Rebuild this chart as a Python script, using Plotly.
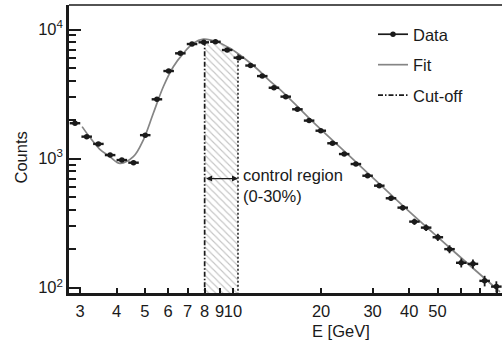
import numpy as np
import plotly.graph_objects as go

# Measured spectrum: bin centres (GeV) and counts per bin
energy = [2.884, 3.162, 3.467, 3.802, 4.169, 4.571, 5.012, 5.495, 6.026, 6.607,
          7.244, 7.943, 8.710, 9.550, 10.47, 11.48, 12.59, 13.80, 15.14, 16.60,
          18.20, 19.95, 21.88, 23.99, 26.30, 28.84, 31.62, 34.67, 38.02, 41.69,
          45.71, 50.12, 54.95, 60.26, 66.07, 72.44, 79.43]
counts = [1880, 1480, 1300, 1065, 975, 930, 1520, 2880, 4770, 6540,
          7720, 7960, 8040, 6940, 6050, 5260, 4360, 3540, 3020, 2410,
          1970, 1645, 1315, 1085, 908, 737, 617, 493, 417, 325,
          292, 246, 199, 156, 153, 113, 102]
bin_half_width_dex = 0.018

# Fitted curve, sampled
fit_e = [3.05, 3.245, 3.499, 3.799, 4.11, 4.564, 4.936, 5.341, 5.778, 6.252,
         6.764, 7.317, 7.914, 8.796, 9.767, 10.84, 12.05, 13.38, 14.86, 18.18,
         26.33, 38.11, 55.15, 81.75]
fit_counts = [1770, 1457, 1187, 1034, 919, 1034, 1393, 2244, 3605, 5152,
              6541, 7819, 8412, 8044, 7151, 6067, 4989, 3990, 3251, 2063,
              941, 430, 203, 93]

# Cut-off energy and upper edge of the control region (cut-off + 30%)
cut_e = 8.0
ctrl_e = 10.4
arrow_counts = 700

x_tickvals = [3, 4, 5, 6, 7, 8, 9, 10, 20, 30, 40, 50]
x_ticktext = ["3", "4", "5", "6", "7", "8", "9", "10", "20", "30", "40", "50"]
x_minorvals = [60, 70, 80]
y_tickvals = [100, 1000, 10000]
y_ticktext = ["10<sup>2</sup>", "10<sup>3</sup>", "10<sup>4</sup>"]
y_minorvals = [m * 10 ** k for k in (1, 2, 3) for m in range(2, 10)]

x_range = [0.4395, 1.9193]
y_range = [1.959, 4.19]

FONT = "Liberation Sans, Arial, sans-serif"
FS = 16.5
INK = "#1a1a1a"

e = np.array(energy)
c = np.array(counts)
err_plus = e * (10 ** bin_half_width_dex - 1)
err_minus = e * (1 - 10 ** -bin_half_width_dex)

# Fit value at the edges of the control region (log-log interpolation)
lfe, lfc = np.log10(fit_e), np.log10(fit_counts)
def fit_at(x):
    return 10 ** np.interp(np.log10(x), lfe, lfc)

inside = [(fe, fc) for fe, fc in zip(fit_e, fit_counts) if cut_e < fe < ctrl_e]
ybot = 10 ** (y_range[0] - 0.2)
hx = [cut_e, cut_e] + [p[0] for p in inside] + [ctrl_e, ctrl_e]
hy = [ybot, fit_at(cut_e)] + [p[1] for p in inside] + [fit_at(ctrl_e), ybot]

fig = go.Figure()

# hatched control region
fig.add_trace(go.Scatter(
    x=hx, y=hy, mode="lines", fill="toself", line=dict(width=0),
    fillcolor="rgba(0,0,0,0)",
    fillpattern=dict(shape="\\", fgcolor="#8a8a8a", bgcolor="white", size=5, solidity=0.22),
    showlegend=False, hoverinfo="skip"))

# fit
fig.add_trace(go.Scatter(
    x=fit_e, y=fit_counts, mode="lines", name="Fit", legendrank=2, legendgroup="fit",
    line=dict(color="#858585", width=1.7, shape="spline")))

# cut-off line and control-region edge
fig.add_trace(go.Scatter(
    x=[cut_e, cut_e], y=[ybot, fit_at(cut_e)], mode="lines", name="Cut-off",
    legendrank=3, legendgroup="cut",
    line=dict(color=INK, width=1.7, dash="5px,2px,1.5px,2px")))
fig.add_trace(go.Scatter(
    x=[ctrl_e, ctrl_e], y=[ybot, fit_at(ctrl_e)], mode="lines",
    line=dict(color=INK, width=1.5, dash="2px,2px"), showlegend=False))

# data with bin-width and Poisson errors
fig.add_trace(go.Scatter(
    x=energy, y=counts, mode="markers", showlegend=False,
    marker=dict(color=INK, size=5.5),
    error_x=dict(type="data", symmetric=False, array=err_plus, arrayminus=err_minus,
                 color=INK, thickness=2.4, width=0),
    error_y=dict(type="data", array=np.sqrt(c), color=INK, thickness=1.8, width=0)))
fig.add_trace(go.Scatter(
    x=[None], y=[None], mode="lines+markers", name="Data", legendrank=1, legendgroup="data",
    line=dict(color=INK, width=1.7), marker=dict(color=INK, size=5.5)))

# double arrow spanning the control region
fig.add_annotation(
    x=np.log10(ctrl_e), y=np.log10(arrow_counts), ax=np.log10(cut_e), ay=np.log10(arrow_counts),
    xref="x", yref="y", axref="x", ayref="y", text="", showarrow=True,
    arrowhead=2, arrowside="end+start", arrowsize=1, arrowwidth=1.2, arrowcolor=INK,
    standoff=0, startstandoff=0)
fig.add_annotation(
    x=np.log10(ctrl_e), y=np.log10(arrow_counts), xref="x", yref="y",
    text="control region<br>(0-30%)", showarrow=False, align="left",
    xanchor="left", yanchor="middle", xshift=3, yshift=-7,
    font=dict(family=FONT, size=FS, color=INK))

# axis titles
fig.add_annotation(x=(341 - 69) / 433, y=-(331 - 293) / 288, xref="paper", yref="paper",
                   text="E [GeV]", showarrow=False, xanchor="center", yanchor="middle",
                   font=dict(family=FONT, size=FS, color=INK))
fig.add_annotation(x=(20.5 - 69) / 433, y=(293 - 158) / 288, xref="paper", yref="paper",
                   text="Counts", showarrow=False, textangle=-90, xanchor="center",
                   yanchor="middle", font=dict(family=FONT, size=FS, color=INK))

# top frame line
fig.add_shape(type="line", xref="paper", yref="paper", x0=0, x1=1, y0=1, y1=1,
              line=dict(color=INK, width=1.7))

fig.update_xaxes(
    type="log", range=x_range, tickvals=x_tickvals, ticktext=x_ticktext, tickangle=0,
    ticks="inside", ticklen=5, tickwidth=1.7, tickcolor=INK, ticklabelstandoff=1,
    minor=dict(tickvals=x_minorvals, ticks="inside", ticklen=5, tickwidth=1.7,
               tickcolor=INK, showgrid=False),
    showline=True, linecolor=INK, linewidth=2.5, showgrid=False, zeroline=False,
    tickfont=dict(family=FONT, size=FS, color=INK))
fig.update_yaxes(
    type="log", range=y_range, tickvals=y_tickvals, ticktext=y_ticktext,
    ticks="inside", ticklen=12, tickwidth=1.7, tickcolor=INK,
    minor=dict(tickvals=y_minorvals, ticks="inside", ticklen=7, tickwidth=1.7, tickcolor=INK,
               showgrid=False),
    showline=True, linecolor=INK, linewidth=2.5, showgrid=False, zeroline=False,
    tickfont=dict(family=FONT, size=FS, color=INK))

fig.update_layout(
    width=502, height=350,
    margin=dict(l=69, r=0, t=5, b=57),
    paper_bgcolor="white", plot_bgcolor="white",
    legend=dict(x=(373 - 69) / 433, y=(293 - 17) / 288, xanchor="left", yanchor="top",
                bgcolor="rgba(0,0,0,0)", font=dict(family=FONT, size=FS, color=INK),
                tracegroupgap=6),
)

fig.write_html("out.html")
